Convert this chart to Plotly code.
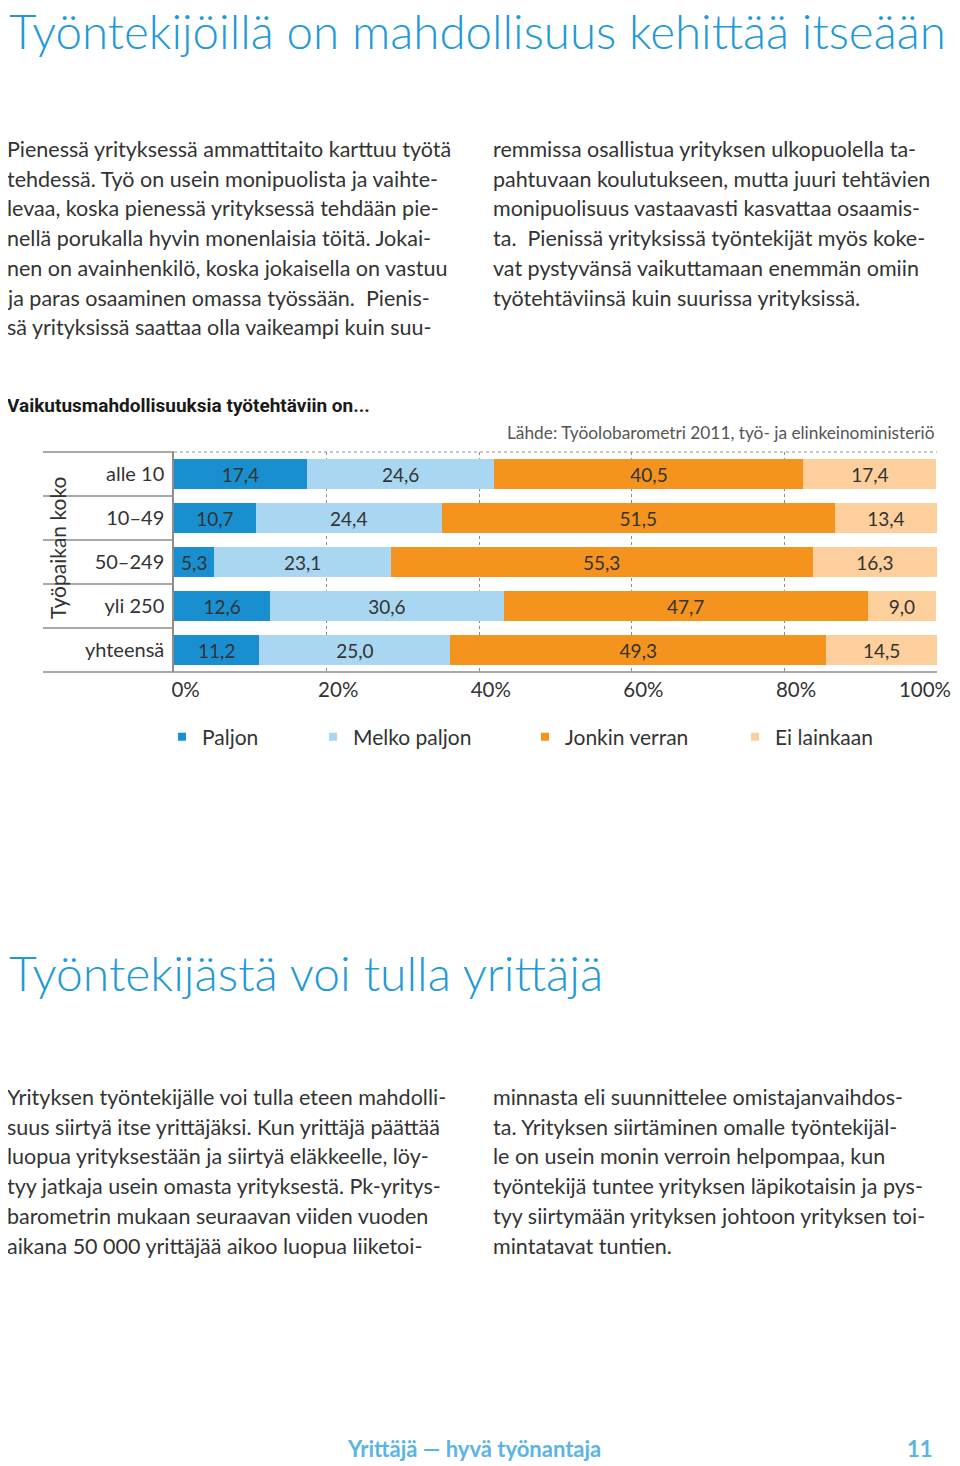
import plotly.graph_objects as go

W, H = 960, 1466

categories = ["alle 10", "10–49", "50–249", "yli 250", "yhteensä"]
paljon = [17.4, 10.7, 5.3, 12.6, 11.2]
melko_paljon = [24.6, 24.4, 23.1, 30.6, 25.0]
jonkin_verran = [40.5, 51.5, 55.3, 47.7, 49.3]
ei_lainkaan = [17.4, 13.4, 16.3, 9.0, 14.5]
series_names = ["Paljon", "Melko paljon", "Jonkin verran", "Ei lainkaan"]
series_colors = ["#1a8fd0", "#a9d6f0", "#f5931f", "#fccf9c"]
tick_values = [0, 20, 40, 60, 80, 100]
tick_labels = ["0%", "20%", "40%", "60%", "80%", "100%"]

heading1 = "Työntekijöillä on mahdollisuus kehittää itseään"
heading2 = "Työntekijästä voi tulla yrittäjä"
chart_title = "Vaikutusmahdollisuuksia työtehtäviin on..."
source_text = "Lähde: Työolobarometri 2011, työ- ja elinkeinoministeriö"
axis_title = "Työpaikan koko"
footer_left = "Yrittäjä — hyvä työnantaja"
footer_right = "11"

para1_col1 = [
    "Pienessä yrityksessä ammattitaito karttuu työtä",
    "tehdessä. Työ on usein monipuolista ja vaihte-",
    "levaa, koska pienessä yrityksessä tehdään pie-",
    "nellä porukalla hyvin monenlaisia töitä. Jokai-",
    "nen on avainhenkilö, koska jokaisella on vastuu",
    "ja paras osaaminen omassa työssään.  Pienis-",
    "sä yrityksissä saattaa olla vaikeampi kuin suu-",
]
para1_col2 = [
    "remmissa osallistua yrityksen ulkopuolella ta-",
    "pahtuvaan koulutukseen, mutta juuri tehtävien",
    "monipuolisuus vastaavasti kasvattaa osaamis-",
    "ta.  Pienissä yrityksissä työntekijät myös koke-",
    "vat pystyvänsä vaikuttamaan enemmän omiin",
    "työtehtäviinsä kuin suurissa yrityksissä.",
]
para2_col1 = [
    "Yrityksen työntekijälle voi tulla eteen mahdolli-",
    "suus siirtyä itse yrittäjäksi. Kun yrittäjä päättää",
    "luopua yrityksestään ja siirtyä eläkkeelle, löy-",
    "tyy jatkaja usein omasta yrityksestä. Pk-yritys-",
    "barometrin mukaan seuraavan viiden vuoden",
    "aikana 50 000 yrittäjää aikoo luopua liiketoi-",
]
para2_col2 = [
    "minnasta eli suunnittelee omistajanvaihdos-",
    "ta. Yrityksen siirtäminen omalle työntekijäl-",
    "le on usein monin verroin helpompaa, kun",
    "työntekijä tuntee yrityksen läpikotaisin ja pys-",
    "tyy siirtymään yrityksen johtoon yrityksen toi-",
    "mintatavat tuntien.",
]

BODY_FONT = "Lato, 'Open Sans', sans-serif"
TEXT_COLOR = "#333333"
BLUE_HEAD = "#1e9ad6"
GRID = "#8c8c8c"
OFF = 8  # page body margin compensation
NBSP = "\u00a0"


def px(x):
    return (x - OFF) / W


def py(y):
    return 1 - (y - OFF) / H


fig = go.Figure()

all_series = [paljon, melko_paljon, jonkin_verran, ei_lainkaan]
for name, vals, col in zip(series_names, all_series, series_colors):
    fig.add_trace(go.Bar(
        y=categories, x=vals, orientation="h", name=name,
        marker=dict(color=col, line=dict(width=0)),
        text=[f"{v:.1f}".replace(".", ",") for v in vals],
        textposition="inside", insidetextanchor="middle",
        textfont=dict(family=BODY_FONT, size=19, color=TEXT_COLOR),
        constraintext="none", showlegend=False, hoverinfo="skip",
    ))

legend_sq = [187, 338, 550, 760]
legend_ids = ["legend", "legend2", "legend3", "legend4"]
for i, (name, col) in enumerate(zip(series_names, series_colors)):
    fig.add_trace(go.Scatter(
        x=[None], y=[None], mode="markers", name=name,
        marker=dict(symbol="square", size=8, color=col),
        legend=legend_ids[i], showlegend=True,
    ))

x0p, x1p = 174, 937
y0p, y1p = 452, 672

layout_legends = {}
for i, lid in enumerate(legend_ids):
    layout_legends[lid] = dict(
        x=px(legend_sq[i] - 25), y=py(737), xanchor="left", yanchor="middle",
        orientation="h", bgcolor="rgba(0,0,0,0)", borderwidth=0,
        font=dict(family=BODY_FONT, size=21, color=TEXT_COLOR),
        itemwidth=30, tracegroupgap=0,
    )

# all labels shifted left; all but the last padded back to the right,
# so "100%" stays inside the page like in the reference
tick_text = [NBSP * 9 + t for t in tick_labels[:-1]] + [tick_labels[-1]]

fig.update_layout(
    width=W, height=H, autosize=False,
    margin=dict(l=0, r=0, t=0, b=0, pad=0, autoexpand=False),
    paper_bgcolor="white", plot_bgcolor="white",
    barmode="stack", bargap=0.34,
    uniformtext=dict(mode="show", minsize=19),
    xaxis=dict(
        domain=[px(x0p), px(x1p)], range=[0, 100],
        tickvals=tick_values, ticktext=tick_text,
        showgrid=True, gridcolor=GRID, griddash="dot", gridwidth=1,
        zeroline=False, showline=False, ticks="",
        tickfont=dict(family=BODY_FONT, size=20.5, color=TEXT_COLOR),
        ticklabelstandoff=3, ticklabelshift=-12, ticklabeloverflow="allow",
        fixedrange=True, automargin=False,
    ),
    yaxis=dict(
        domain=[py(y1p), py(y0p)],
        categoryorder="array", categoryarray=categories,
        autorange="reversed",
        showgrid=False, zeroline=False, showline=True, linecolor=GRID, linewidth=1.5,
        ticks="", tickfont=dict(family=BODY_FONT, size=20, color=TEXT_COLOR),
        ticklabelstandoff=4, fixedrange=True, automargin=False,
    ),
    **layout_legends,
)

shapes = []
shapes.append(dict(type="line", xref="paper", yref="y domain", x0=px(43), x1=px(x0p), y0=1, y1=1,
                   line=dict(color=GRID, width=1.5)))
shapes.append(dict(type="line", xref="paper", yref="y domain", x0=px(x0p), x1=px(x1p), y0=1, y1=1,
                   line=dict(color=GRID, width=1, dash="dot")))
for k in range(len(categories) - 1):
    shapes.append(dict(type="line", xref="paper", yref="y", x0=px(43), x1=px(x0p), y0=k + 0.5, y1=k + 0.5,
                       line=dict(color=GRID, width=1.5)))
shapes.append(dict(type="line", xref="paper", yref="y domain", x0=px(43), x1=px(x1p), y0=0, y1=0,
                   line=dict(color=GRID, width=1.5)))
fig.update_layout(shapes=shapes)

ann = []


def txt(x, y, s, size, color=TEXT_COLOR, family=BODY_FONT, xanchor="left", weight="normal", angle=0, pad=1):
    ann.append(dict(x=px(x), y=py(y), xref="paper", yref="paper", text=s, showarrow=False,
                    xanchor=xanchor, yanchor="middle", textangle=angle, borderpad=pad,
                    font=dict(family=family, size=size, color=color, weight=weight)))


txt(8, 31, heading1, 47.5, color=BLUE_HEAD, weight=300, pad=0)
txt(8, 972, heading2, 48, color=BLUE_HEAD, weight=300, pad=0)

line_h = 29.7
for i, s in enumerate(para1_col1):
    txt(5, 149 + i * line_h, s, 21.5)
for i, s in enumerate(para1_col2):
    txt(491, 149 + i * line_h, s, 21.5)
for i, s in enumerate(para2_col1):
    txt(5, 1097 + i * line_h, s, 21.5)
for i, s in enumerate(para2_col2):
    txt(491, 1097 + i * line_h, s, 21.5)

txt(5, 405, chart_title, 19, color="#1a1a1a", family="Roboto, sans-serif", weight="bold")
txt(937, 432, source_text, 17.3, color="#555555", xanchor="right")
txt(57, 548, axis_title, 21, angle=-90, xanchor="center")

txt(345, 1448, footer_left, 22, color="#5ab4e4", weight="bold")
txt(935, 1448, footer_right, 22, color="#5ab4e4", weight="bold", xanchor="right")

fig.update_layout(annotations=ann)

fig.write_html("out.html")
